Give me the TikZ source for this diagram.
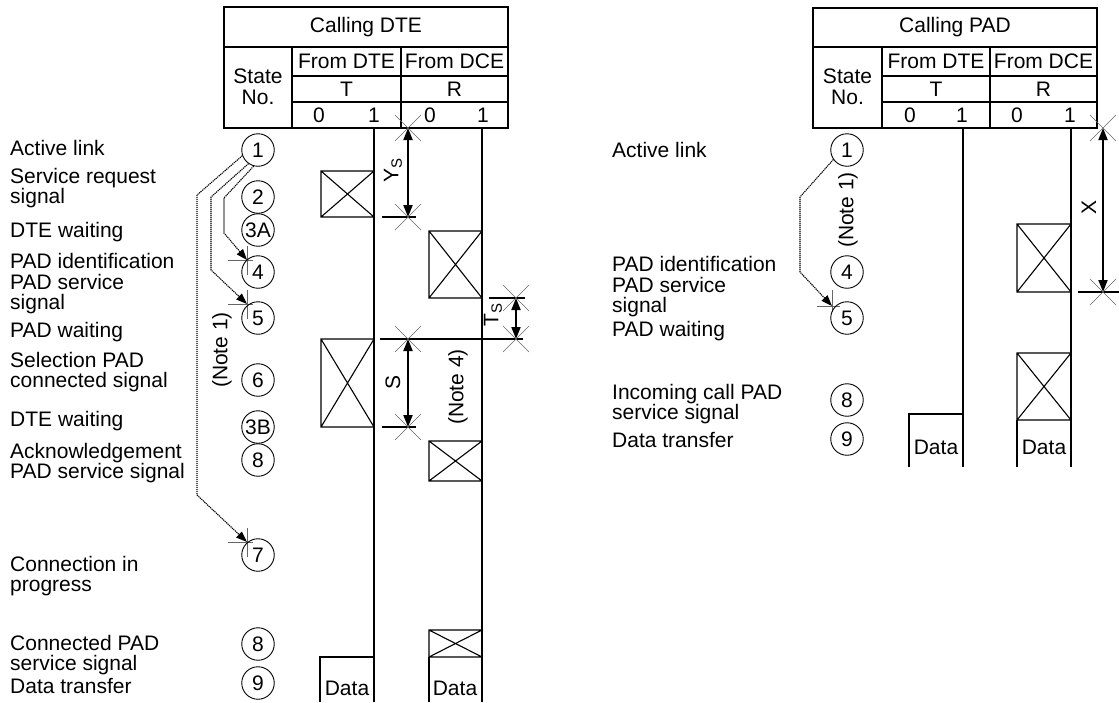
\documentclass[tikz,border=0pt]{standalone}
\usepackage{fontspec}
\setmainfont{Liberation Sans}
\usetikzlibrary{arrows.meta}
\newcommand{\lab}{\fontsize{21}{20.5}\selectfont}
\newcommand{\sub}[1]{\raisebox{-3.5pt}{\fontsize{15}{15}\selectfont #1}}

\begin{document}
\begin{tikzpicture}[x=1pt,y=1pt,
	state/.style={circle,draw,line width=0.9pt,minimum size=32.5pt,inner sep=0pt,font=\lab},
	txt/.style={inner sep=0pt,font=\lab},
	desc/.style={txt,anchor=west,align=left},
	grid/.style={line width=1.6pt},
	sig/.style={line width=2.2pt},
	box/.style={line width=1.1pt},
	hair/.style={line width=0.6pt,black!60},
	dimen/.style={line width=1.8pt,{Triangle[length=12pt,width=9pt]}-{Triangle[length=12pt,width=9pt]}},
	note/.style={line width=1.1pt,dash pattern=on 1.2pt off 0.8pt,-{Triangle[length=11pt,width=8pt]}}]
	\useasboundingbox (0,0) rectangle (1119,-702);

	% calling DTE
	\draw [grid] (224,-7) rectangle (508,-128);
	\draw [grid] (224,-47) -- (508,-47) (292,-47) -- (292,-128) (401,-47) -- (401,-128);
	\draw [grid] (292,-76) -- (508,-76) (292,-102) -- (508,-102);
	\draw (366,-27) node [txt] (h1) {Calling DTE};
	\draw (258,-87) node [txt,align=center] (h2) {State\\No.};
	\draw (346.5,-61.5) node [txt] (h3) {From DTE};
	\draw (454.5,-61.5) node [txt] (h4) {From DCE};
	\draw (346.5,-89) node [txt] (h5) {T};
	\draw (454.5,-89) node [txt] (h6) {R};
	\draw (319,-115) node [txt] (h7) {0};
	\draw (374,-115) node [txt] (h8) {1};
	\draw (430,-115) node [txt] (h9) {0};
	\draw (483,-115) node [txt] (h10) {1};

	\draw (10,-148) node [desc] (l1) {Active link};
	\draw (10,-188) node [desc] (l2) {Service request\\signal};
	\draw (10,-232) node [desc] (l3) {DTE waiting};
	\draw (10,-284) node [desc] (l4) {PAD identification\\PAD service\\signal};
	\draw (10,-332) node [desc] (l5) {PAD waiting};
	\draw (10,-372) node [desc] (l6) {Selection PAD\\connected signal};
	\draw (10,-421) node [desc] (l7) {DTE waiting};
	\draw (10,-463) node [desc] (l8) {Acknowledgement\\PAD service signal};
	\draw (10,-576) node [desc] (l9) {Connection in\\progress};
	\draw (10,-655) node [desc] (l10) {Connected PAD\\service signal};
	\draw (10,-686) node [desc] (l11) {Data transfer};

	\coordinate (t4) at (247,-260);
	\coordinate (t5) at (247,-304);
	\coordinate (t7) at (247,-542);
	\foreach \p in {t4,t5,t7}
		\draw [hair] (\p) +(-19,0) -- +(6,0) (\p) +(0,14) -- +(0,-15);

	\draw (258,-150) node [state] (s1) {1};
	\draw (258,-197) node [state] (s2) {2};
	\draw (258,-230) node [state] (s3a) {3A};
	\draw (258,-272) node [state] (s4) {4};
	\draw (258,-318) node [state] (s5) {5};
	\draw (258,-380) node [state] (s6) {6};
	\draw (258,-427) node [state] (s3b) {3B};
	\draw (258,-460) node [state] (s8) {8};
	\draw (258,-555) node [state] (s7) {7};
	\draw (258,-644) node [state] (s8b) {8};
	\draw (258,-683) node [state] (s9) {9};

	\draw [note] (s1.200) -- (197,-195) -- (197,-495) -- (t7);
	\draw [note] (s1.235) -- (211,-197) -- (211,-270) -- (t5);
	\draw [note] (s1.255) -- (224,-198) -- (224,-233) -- (t4);
	\draw (222,-350) node [txt,rotate=90] (n1) {(Note 1)};

	\draw [sig] (374,-128) -- (374,-702);
	\draw [sig] (482,-128) -- (482,-702);
	\foreach \a/\b/\c/\d in {321/171/374/217, 429/231/482/298, 321/339/374/427, 429/441/482/481, 429/630/482/657}
		\draw [box] (\a,-\b) rectangle (\c,-\d) (\a,-\b) -- (\c,-\d) (\a,-\d) -- (\c,-\b);
	\draw [box] (320,-702) -- (320,-657) -- (374,-657);
	\draw [sig] (429,-657) -- (429,-702);
	\draw (347,-688) node [txt] (d1) {Data};
	\draw (455,-688) node [txt] (d2) {Data};

	\coordinate (ys1) at (408,-128);
	\coordinate (ys2) at (408,-217);
	\coordinate (ts1) at (516,-298);
	\coordinate (ts2) at (516,-339);
	\coordinate (ss1) at (408,-339);
	\coordinate (ss2) at (408,-427);
	\draw [grid] (382,-217) -- (416,-217) (489,-298) -- (525,-298);
	\draw [grid] (380,-339) -- (523,-339) (382,-427) -- (416,-427);
	\draw [dimen] (ys1) -- (ys2);
	\draw [dimen] (ts1) -- (ts2);
	\draw [dimen] (ss1) -- (ss2);
	\draw (393,-170) node [txt,rotate=90] (ys) {Y\sub{S}};
	\draw (493,-315) node [txt,rotate=90] (ts) {T\sub{S}};
	\draw (393,-382) node [txt,rotate=90] (ss) {S};
	\draw (458,-387) node [txt,rotate=90] (n4) {(Note 4)};

	% calling PAD
	\draw [grid] (813,-8) rectangle (1097,-128);
	\draw [grid] (813,-47) -- (1097,-47) (882,-47) -- (882,-128) (990,-47) -- (990,-128);
	\draw [grid] (882,-76) -- (1097,-76) (882,-102) -- (1097,-102);
	\draw (955,-27) node [txt] (g1) {Calling PAD};
	\draw (847.5,-87) node [txt,align=center] (g2) {State\\No.};
	\draw (936,-61.5) node [txt] (g3) {From DTE};
	\draw (1043.5,-61.5) node [txt] (g4) {From DCE};
	\draw (936,-89) node [txt] (g5) {T};
	\draw (1043.5,-89) node [txt] (g6) {R};
	\draw (910,-115) node [txt] (g7) {0};
	\draw (962,-115) node [txt] (g8) {1};
	\draw (1017,-115) node [txt] (g9) {0};
	\draw (1070,-115) node [txt] (g10) {1};

	\draw (612,-150) node [desc] (m1) {Active link};
	\draw (612,-287) node [desc] (m2) {PAD identification\\PAD service\\signal};
	\draw (612,-331) node [desc] (m3) {PAD waiting};
	\draw (612,-404) node [desc] (m4) {Incoming call PAD\\service signal};
	\draw (612,-440) node [desc] (m5) {Data transfer};

	\coordinate (u5) at (832,-306);
	\draw [hair] (u5) +(-15,0) -- +(8,0) (u5) +(0,16) -- +(0,-6);

	\draw (847,-150) node [state] (r1) {1};
	\draw (847,-272) node [state] (r4) {4};
	\draw (847,-318) node [state] (r5) {5};
	\draw (847,-400) node [state] (r8) {8};
	\draw (847,-439) node [state] (r9) {9};

	\draw [note] (r1.215) -- (800,-197) -- (800,-272) -- (u5);
	\draw (848,-210) node [txt,rotate=90] (n1b) {(Note 1)};

	\draw [sig] (963,-128) -- (963,-467);
	\draw [sig] (1071,-128) -- (1071,-467);
	\foreach \a/\b/\c/\d in {1017/224/1071/292, 1017/353/1071/420}
		\draw [box] (\a,-\b) rectangle (\c,-\d) (\a,-\b) -- (\c,-\d) (\a,-\d) -- (\c,-\b);
	\draw [box] (909,-467) -- (909,-414) -- (963,-414);
	\draw [sig] (1017,-420) -- (1017,-467);
	\draw (936,-447) node [txt] (d3) {Data};
	\draw (1044,-447) node [txt] (d4) {Data};

	\coordinate (xx1) at (1103,-128);
	\coordinate (xx2) at (1103,-292);
	\draw [grid] (1078,-292) -- (1119,-292);
	\draw [dimen] (xx1) -- (xx2);
	\draw (1089,-207) node [txt,rotate=90] (xs) {X};

	\foreach \p in {ys1,ys2,ts1,ts2,ss1,ss2,xx1,xx2}
		\draw [hair] (\p) +(-13,-13) -- +(13,13) (\p) +(-13,13) -- +(13,-13);
\end{tikzpicture}
\end{document}
